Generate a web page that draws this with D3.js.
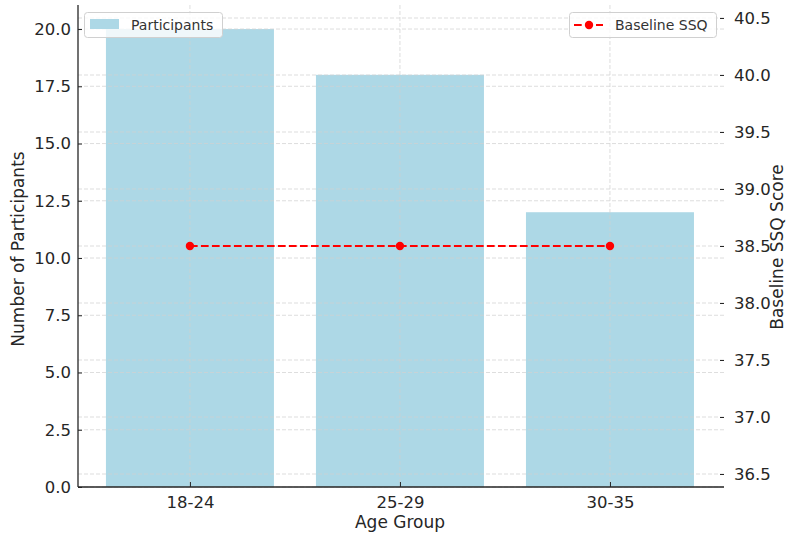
<!DOCTYPE html>
<html>
<head>
<meta charset="utf-8">
<script src="https://cdn.jsdelivr.net/npm/d3@7"></script>
<style>
  html, body { margin: 0; padding: 0; background: #fff; }
  svg { display: block; font-family: "DejaVu Sans", sans-serif; }
</style>
</head>
<body>
<svg id="chart" width="787" height="535"></svg>
<script>
const categories = ["18-24", "25-29", "30-35"];
const participants = [20, 18, 12];
const baselineSSQ = [38.5, 38.5, 38.5];
const leftTicks = [0, 2.5, 5, 7.5, 10, 12.5, 15, 17.5, 20];
const rightTicks = [36.5, 37.0, 37.5, 38.0, 38.5, 39.0, 39.5, 40.0, 40.5];

const svg = d3.select("#chart");
const L = 78, R = 724, T = 5, B = 487;
const textColor = "#262626";
const gridColor = "#d2d2d2";

const x = d3.scaleLinear().domain([-0.533, 2.543]).range([L, R]);
const yL = d3.scaleLinear().domain([0, 21.05]).range([B, T]);
const yR = d3.scaleLinear().domain([36.386, 40.614]).range([B, T]);
const barW = x(0.8) - x(0);

// bars
svg.append("g").selectAll("rect").data(categories).join("rect")
  .attr("x", (d, i) => x(i) - barW / 2)
  .attr("width", barW)
  .attr("y", (d, i) => yL(participants[i]))
  .attr("height", (d, i) => yL(0) - yL(participants[i]))
  .attr("fill", "#add8e6");

// grid
const grid = svg.append("g").attr("stroke", gridColor).attr("stroke-width", 0.8)
  .attr("stroke-dasharray", "4,2").attr("opacity", 0.9);
grid.selectAll("line.gl").data(leftTicks).join("line").attr("class", "gl")
  .attr("x1", L).attr("x2", R).attr("y1", d => yL(d)).attr("y2", d => yL(d));
grid.selectAll("line.gr").data(rightTicks).join("line").attr("class", "gr")
  .attr("x1", L).attr("x2", R).attr("y1", d => yR(d)).attr("y2", d => yR(d));
grid.selectAll("line.gx").data(categories).join("line").attr("class", "gx")
  .attr("x1", (d, i) => x(i)).attr("x2", (d, i) => x(i)).attr("y1", T).attr("y2", B);

// line series
const line = d3.line().x((d, i) => x(i)).y(d => yR(d));
svg.append("path").datum(baselineSSQ).attr("d", line)
  .attr("fill", "none").attr("stroke", "#ff0000").attr("stroke-width", 2.1)
  .attr("stroke-dasharray", "7.7,3.3");
svg.append("g").selectAll("circle").data(baselineSSQ).join("circle")
  .attr("cx", (d, i) => x(i)).attr("cy", d => yR(d)).attr("r", 4.2).attr("fill", "#ff0000");

// axes
const fmt = d3.format(".1f");
const axL = svg.append("g").attr("transform", `translate(${L},0)`)
  .call(d3.axisLeft(yL).tickValues(leftTicks).tickFormat(fmt).tickSizeInner(-4).tickSizeOuter(0).tickPadding(7));
const axR = svg.append("g").attr("transform", `translate(${R},0)`)
  .call(d3.axisRight(yR).tickValues(rightTicks).tickFormat(fmt).tickSizeInner(-4).tickSizeOuter(0).tickPadding(10));
const axB = svg.append("g").attr("transform", `translate(0,${B})`)
  .call(d3.axisBottom(x).tickValues([0, 1, 2]).tickFormat(i => categories[i]).tickSizeInner(-5).tickSizeOuter(0).tickPadding(9));

[axL, axR, axB].forEach(a => {
  a.selectAll("text").attr("font-size", 16.5).attr("fill", textColor).attr("font-family", "DejaVu Sans");
  a.selectAll(".tick line").attr("stroke", textColor).attr("stroke-width", 1);
});
axR.select(".domain").remove();
axL.select(".domain").attr("stroke", textColor).attr("stroke-width", 1.3)
  .attr("d", `M0,${T}V${B}`);
axB.select(".domain").attr("stroke", textColor).attr("stroke-width", 1.3)
  .attr("d", `M${L},0H${R}`);

// axis titles
svg.append("text").attr("x", 400).attr("y", 528).attr("text-anchor", "middle")
  .attr("font-size", 17).attr("fill", textColor).text("Age Group");
svg.append("text").attr("transform", "translate(24,249) rotate(-90)").attr("text-anchor", "middle")
  .attr("font-size", 17).attr("fill", textColor).text("Number of Participants");
svg.append("text").attr("transform", "translate(783,247) rotate(-90)").attr("text-anchor", "middle")
  .attr("font-size", 17).attr("fill", textColor).text("Baseline SSQ Score");

// legends
const lg1 = svg.append("g");
lg1.append("rect").attr("x", 84.5).attr("y", 12.5).attr("width", 138).attr("height", 25).attr("rx", 3)
  .attr("fill", "#fff").attr("fill-opacity", 0.8).attr("stroke", "#d0d0d0");
lg1.append("rect").attr("x", 90).attr("y", 19).attr("width", 29).attr("height", 10).attr("fill", "#add8e6");
lg1.append("text").attr("x", 131).attr("y", 30).attr("font-size", 14).attr("fill", "#333").text("Participants");

const lg2 = svg.append("g");
lg2.append("rect").attr("x", 569.5).attr("y", 12.5).attr("width", 147).attr("height", 25).attr("rx", 3)
  .attr("fill", "#fff").attr("fill-opacity", 0.8).attr("stroke", "#d0d0d0");
lg2.append("line").attr("x1", 574).attr("x2", 603).attr("y1", 25).attr("y2", 25)
  .attr("stroke", "#ff0000").attr("stroke-width", 2.1).attr("stroke-dasharray", "7.7,3.3");
lg2.append("circle").attr("cx", 589).attr("cy", 25).attr("r", 4.2).attr("fill", "#ff0000");
lg2.append("text").attr("x", 615).attr("y", 30).attr("font-size", 14).attr("fill", "#333").text("Baseline SSQ");
</script>
</body>
</html>
